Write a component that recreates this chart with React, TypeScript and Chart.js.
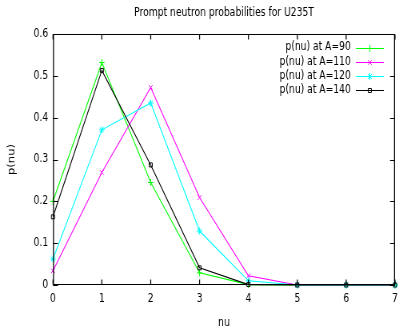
import React, { useEffect, useRef } from "react";
import { Chart, registerables } from "chart.js";
import { drawPoint } from "chart.js/helpers";

Chart.register(...registerables);

const nu = [0, 1, 2, 3, 4, 5, 6, 7];
const pA90 = [0.2, 0.532, 0.245, 0.029, 0.001, 0, 0, 0];
const pA110 = [0.034, 0.269, 0.472, 0.209, 0.022, 0, 0, 0];
const pA120 = [0.062, 0.371, 0.435, 0.129, 0.01, 0, 0, 0];
const pA140 = [0.163, 0.513, 0.287, 0.041, 0.001, 0, 0, 0];
const seriesLabels = ["p(nu) at A=90", "p(nu) at A=110", "p(nu) at A=120", "p(nu) at A=140"];
const yTicks = [0, 0.1, 0.2, 0.3, 0.4, 0.5, 0.6];

const FONT = "'DejaVu Sans', sans-serif";
const FS = 11.5;
// canvas is drawn wider and shown squeezed horizontally (like the reference image)
const SX = 1.25;
const W = Math.round(399 * SX);
const H = 328;

export default function App() {
  const ref = useRef<HTMLCanvasElement | null>(null);
  useEffect(() => {
    document.body.style.margin = "0";
    const canvas = ref.current!;
    const mk = (d: number[]) => nu.map((x, i) => ({ x, y: d[i] }));
    const colors = ["#00ff00", "#ff00ff", "#00ffff", "#000000"];
    const styles = ["cross", "crossRot", "star", "rect"];
    const radii = [3.5, 3.2, 3.5, 2.8];
    const data = [pA90, pA110, pA120, pA140];

    const framePlugin = {
      id: "frame",
      afterDatasetsDraw(chart: any) {
        const ctx = chart.ctx;
        const { left, right, top, bottom } = chart.chartArea;
        const xs = chart.scales.x;
        const ys = chart.scales.y;
        ctx.save();
        ctx.strokeStyle = "#000";
        ctx.beginPath();
        const L = left, R = right;
        const T = Math.round(top) + 0.5, B = Math.round(bottom) - 0.5;
        ctx.lineWidth = 1;
        ctx.moveTo(L, T); ctx.lineTo(R, T);
        ctx.moveTo(L, B); ctx.lineTo(R, B);
        const tl = 5;
        for (const v of yTicks) {
          const py = Math.round(ys.getPixelForValue(v)) + 0.5;
          ctx.moveTo(L, py); ctx.lineTo(L + tl * SX, py);
          ctx.moveTo(R, py); ctx.lineTo(R - tl * SX, py);
        }
        ctx.stroke();
        ctx.beginPath();
        ctx.lineWidth = SX;
        ctx.moveTo(L + SX / 2, T); ctx.lineTo(L + SX / 2, B);
        ctx.moveTo(R - SX / 2, T); ctx.lineTo(R - SX / 2, B);
        for (let v = 0; v <= 7; v++) {
          const px = xs.getPixelForValue(v);
          ctx.moveTo(px, B); ctx.lineTo(px, B - tl);
          ctx.moveTo(px, T); ctx.lineTo(px, T + tl);
        }
        ctx.stroke();

        // legend
        ctx.font = FS + "px " + FONT;
        ctx.textAlign = "right";
        ctx.textBaseline = "middle";
        chart.data.datasets.forEach((ds: any, i: number) => {
          const y = 47.5 + i * 14.3;
          ctx.fillStyle = "#000";
          ctx.fillText(ds.label, 351 * SX, y);
          ctx.strokeStyle = ds.borderColor;
          ctx.lineWidth = 1;
          ctx.beginPath();
          ctx.moveTo(356 * SX, Math.round(y) + 0.5);
          ctx.lineTo(384 * SX, Math.round(y) + 0.5);
          ctx.stroke();
          ctx.fillStyle = ds.pointBackgroundColor;
          drawPoint(ctx, { pointStyle: ds.pointStyle, radius: ds.pointRadius, borderWidth: 1, rotation: 0 }, 370 * SX, Math.round(y) + 0.5);
        });
        ctx.restore();
      },
    };

    const chart = new Chart(canvas, {
      type: "line",
      data: {
        datasets: data.map((d, i) => ({
          label: seriesLabels[i],
          data: mk(d),
          borderColor: colors[i],
          backgroundColor: colors[i],
          pointBackgroundColor: "rgba(0,0,0,0)",
          pointBorderColor: colors[i],
          pointStyle: styles[i] as any,
          pointRadius: radii[i],
          pointBorderWidth: 1,
          borderWidth: 1.1,
          tension: 0,
          clip: false as any,
          order: 3 - i,
        })),
      },
      plugins: [framePlugin],
      options: {
        responsive: false,
        animation: false,
        devicePixelRatio: 1,
        layout: { padding: { left: 0, right: 3 * SX, top: 0, bottom: 0 } },
        plugins: {
          legend: { display: false },
          tooltip: { enabled: false },
          title: {
            display: true,
            text: "Prompt neutron probabilities for U235T",
            fullSize: false,
            color: "#000",
            font: { family: FONT, size: FS, weight: "normal" },
            padding: { top: 6, bottom: 14.2 },
          },
        },
        scales: {
          x: {
            type: "linear",
            min: 0,
            max: 7,
            grid: { display: false, drawTicks: false },
            border: { display: false },
            ticks: {
              stepSize: 1,
              color: "#000",
              padding: 7.5,
              maxRotation: 0,
              font: { family: FONT, size: FS },
            },
            title: {
              display: true,
              text: "nu",
              color: "#000",
              font: { family: FONT, size: FS },
              padding: { top: 0, bottom: -2 },
            },
            afterFit(scale: any) {
              scale.height = 43;
              scale.paddingLeft = 0;
              scale.paddingRight = 0;
            },
          },
          y: {
            type: "linear",
            min: 0,
            max: 0.6,
            grid: { display: false, drawTicks: false },
            border: { display: false },
            afterBuildTicks(scale: any) { scale.ticks = yTicks.map((v) => ({ value: v })); },
            ticks: {
              color: "#000",
              padding: 6,
              font: { family: FONT, size: FS },
              callback: (v: any) => String(Math.round(Number(v) * 10) / 10),
            },
            title: {
              display: true,
              text: "p(nu)",
              color: "#000",
              font: { family: FONT, size: FS },
              padding: { top: 8, bottom: 0 },
            },
            afterFit(scale: any) {
              scale.width = 53 * SX;
              scale.paddingTop = 0;
              scale.paddingBottom = 0;
            },
          },
        },
      },
    } as any);
    return () => chart.destroy();
  }, []);
  return (
    <div style={{ width: 399, height: 328 }}>
      <canvas ref={ref} width={W} height={H} style={{ width: 399, height: 328, display: "block" }} />
    </div>
  );
}
